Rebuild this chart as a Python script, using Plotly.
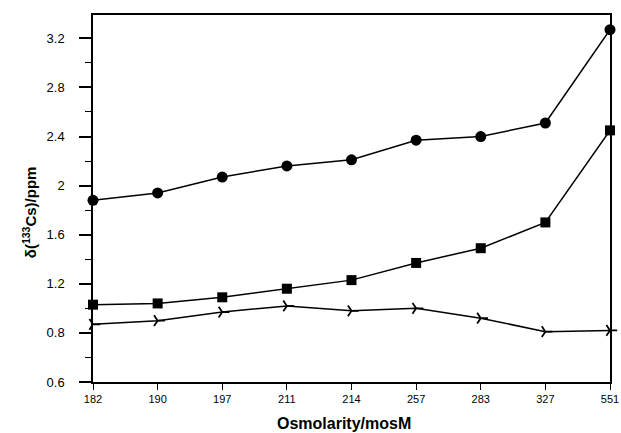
import plotly.graph_objects as go

categories = ["182", "190", "197", "211", "214", "257", "283", "327", "551"]
circles = [1.88, 1.94, 2.07, 2.16, 2.21, 2.37, 2.40, 2.51, 3.27]
squares = [1.03, 1.04, 1.09, 1.16, 1.23, 1.37, 1.49, 1.70, 2.45]
crescents = [0.87, 0.90, 0.97, 1.02, 0.98, 1.00, 0.92, 0.81, 0.82]

y_tickvals = [0.4, 0.8, 1.2, 1.6, 2.0, 2.4, 2.8, 3.2]
y_ticktext = ["0.6", "0.8", "1.2", "1.6", "2", "2.4", "2.8", "3.2"]
y_minorvals = [0.6, 1.0, 1.4, 1.8, 2.2, 2.6, 3.0]

fig = go.Figure()
fig.add_trace(go.Scatter(x=categories, y=crescents, mode="lines+markers",
                         line=dict(color="black", width=1.5),
                         marker=dict(symbol="y-right-open", size=9, color="black",
                                     line=dict(color="black", width=1.8)),
                         cliponaxis=False))
fig.add_trace(go.Scatter(x=categories, y=squares, mode="lines+markers",
                         line=dict(color="black", width=1.5),
                         marker=dict(symbol="square", size=10, color="black"),
                         cliponaxis=False))
fig.add_trace(go.Scatter(x=categories, y=circles, mode="lines+markers",
                         line=dict(color="black", width=1.5),
                         marker=dict(symbol="circle", size=11, color="black"),
                         cliponaxis=False))

fig.update_layout(
    width=621, height=433,
    margin=dict(l=93, r=2, t=15, b=51),
    paper_bgcolor="white", plot_bgcolor="white",
    showlegend=False,
    font=dict(family="Liberation Sans, Arial, sans-serif", color="black"),
    xaxis=dict(type="category", range=[0, 8], showgrid=False, zeroline=False,
               showline=True, mirror=True, linecolor="black", linewidth=1.5,
               ticks="outside", ticklen=6, tickwidth=1.2, tickcolor="black",
               tickfont=dict(size=11)),
    yaxis=dict(range=[0.4, 3.39], showgrid=False, zeroline=False,
               showline=True, mirror=True, linecolor="black", linewidth=1.5,
               tickmode="array", tickvals=y_tickvals, ticktext=y_ticktext,
               ticks="outside", ticklen=12, tickwidth=1.5, tickcolor="black",
               ticklabelstandoff=12,
               tickfont=dict(size=13),
               minor=dict(tickmode="array", tickvals=y_minorvals, ticks="outside",
                          ticklen=6, tickwidth=1.2, tickcolor="black")),
    annotations=[
        dict(text="<b>Osmolarity/mosM</b>", xref="paper", yref="paper",
             x=0.486, y=-0.112, xanchor="center", yanchor="middle",
             showarrow=False, font=dict(size=16)),
        dict(text="<b>δ(<sup>133</sup>Cs)/ppm</b>", xref="paper", yref="paper",
             x=-0.1236, y=0.463, xanchor="center", yanchor="middle",
             textangle=-90, showarrow=False, font=dict(size=15)),
    ],
)

fig.write_html("out.html")
